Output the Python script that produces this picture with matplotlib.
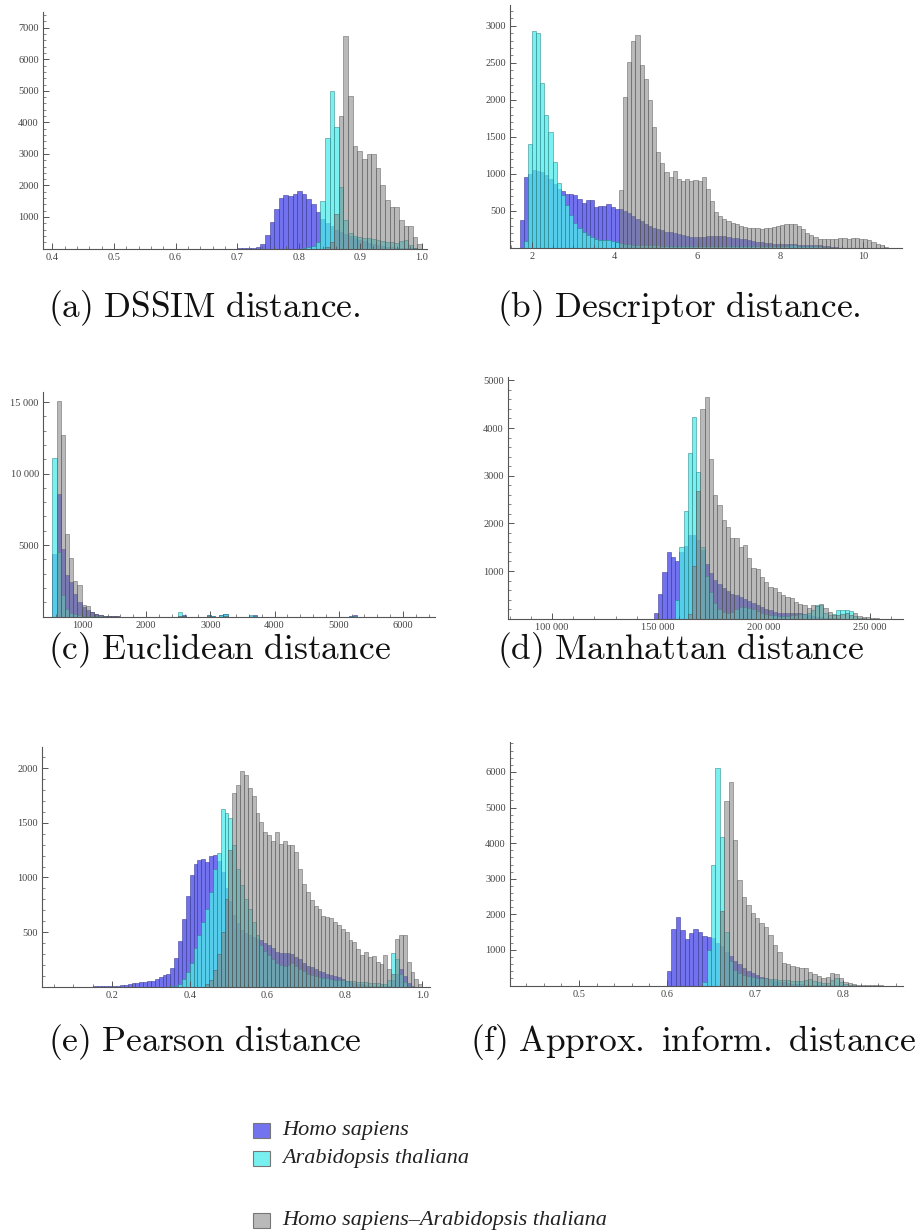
import numpy as np
import matplotlib
matplotlib.use('Agg')
import matplotlib.pyplot as plt
from matplotlib.ticker import AutoMinorLocator
from matplotlib.patches import Rectangle

plt.rcParams['font.family'] = ['Liberation Serif', 'DejaVu Serif']
plt.rcParams['mathtext.fontset'] = 'cm'

##### histogram counts #####
# every panel: first bin edge, bin width, counts per bin

#### (a) DSSIM ####
a_start, a_step = 0.70, 0.0075
a_homo = [5, 10, 15, 25, 60, 150, 420, 850, 1250, 1600,
          1700, 1680, 1720, 1820, 1730, 1580, 1400, 1150, 950, 820,
          700, 600, 520, 450, 390, 330, 280, 230, 190, 150,
          110, 80, 55, 35, 20, 10, 6, 3, 1, 0]
a_arab = [0, 0, 0, 0, 0, 0, 0, 0, 0, 0,
          0, 0, 0, 0, 20, 40, 80, 200, 1500, 3500,
          5000, 3850, 1950, 900, 500, 400, 350, 330, 320, 300,
          280, 250, 220, 200, 170, 250, 270, 100, 20, 0]
a_both = [0, 0, 0, 0, 0, 0, 0, 0, 0, 0,
          0, 0, 0, 0, 0, 0, 0, 0, 0, 50,
          200, 1100, 4200, 6750, 4850, 3250, 3100, 2850, 3000, 3000,
          2550, 2000, 1550, 1330, 1320, 900, 700, 720, 350, 150]

#### (b) Descriptor ####
b_start, b_step = 1.7, 0.1
b_homo = [380, 960, 1000, 1050, 1040, 1020, 980, 930, 860, 790,
          770, 730, 730, 720, 660, 610, 650, 650, 560, 570,
          570, 590, 560, 520, 530, 500, 470, 430, 390, 360,
          330, 300, 270, 250, 240, 220, 210, 200, 190, 175,
          165, 155, 150, 150, 155, 160, 165, 165, 160, 160,
          150, 140, 130, 125, 115, 105, 95, 85, 75, 70,
          65, 60, 58, 55, 52, 50, 48, 45, 42, 40,
          40, 38, 35, 30, 22, 15, 10, 6, 4, 2,
          0, 0, 0, 0, 0, 0, 0, 0, 0, 0]
b_arab = [0, 100, 1400, 2930, 2900, 2230, 1800, 1560, 1160, 880,
          720, 580, 450, 340, 270, 220, 180, 150, 120, 110,
          105, 110, 100, 80, 65, 55, 50, 45, 42, 40,
          38, 36, 35, 34, 33, 32, 31, 30, 30, 29,
          28, 28, 27, 27, 26, 26, 25, 25, 25, 24,
          24, 24, 23, 23, 23, 22, 22, 22, 22, 21,
          21, 21, 21, 25, 30, 35, 35, 30, 28, 26,
          25, 24, 22, 18, 12, 6, 2, 0, 0, 0,
          0, 0, 0, 0, 0, 0, 0, 0, 0, 0]
b_both = [0, 0, 0, 0, 0, 0, 0, 0, 0, 0,
          0, 0, 0, 0, 0, 0, 0, 0, 0, 0,
          0, 0, 0, 0, 780, 2040, 2510, 2800, 2880, 2470,
          2280, 2000, 1640, 1290, 1150, 1030, 960, 1040, 930, 900,
          930, 910, 920, 910, 960, 800, 640, 480, 430, 390,
          360, 340, 320, 300, 285, 272, 265, 265, 262, 265,
          270, 280, 295, 310, 325, 330, 325, 300, 250, 200,
          170, 145, 125, 115, 120, 125, 128, 130, 130, 128,
          130, 130, 128, 120, 105, 85, 60, 35, 12, 0]

#### (c) Euclidean ####
c_start, c_step, c_nbins = 540, 65, 76
c_head_homo = [4400, 8600, 4700, 2900, 2400, 1600, 1000, 650, 420, 300, 190, 100, 60, 35, 20, 10]
c_head_arab = [11100, 4500, 1500, 500, 250, 150, 100, 60, 40, 20, 10, 5, 0, 0, 0, 0]
c_head_both = [0, 15100, 12700, 5800, 4100, 2450, 2200, 820, 750, 300, 190, 80, 40, 20, 10, 5]
# small isolated bumps further right
c_tail_bins = [30, 31, 37, 38, 40, 41, 47, 48, 71, 72]
c_tail_homo = [60, 80, 100, 50, 80, 150, 60, 80, 60, 100]
c_tail_arab = [300, 60, 120, 50, 100, 180, 120, 60, 20, 40]
c_tail_both = [40, 30, 30, 0, 0, 30, 0, 0, 0, 0]

#### (d) Manhattan ####
d_start, d_step = 148000, 2000
d_homo = [110, 510, 970, 1390, 1300, 1200, 1400, 1520, 1750, 1750,
          1650, 1450, 1150, 950, 820, 720, 650, 580, 520, 490,
          450, 410, 370, 330, 290, 250, 210, 180, 150, 130,
          120, 115, 120, 130, 120, 100, 80, 60, 40, 30,
          20, 15, 10, 5, 0, 0, 0, 0, 0, 0,
          0, 0, 0]
d_arab = [0, 0, 0, 0, 0, 400, 1500, 2250, 3480, 4230,
          3070, 1500, 900, 550, 320, 200, 150, 130, 150, 200,
          240, 250, 230, 200, 170, 130, 100, 80, 70, 60,
          60, 60, 70, 80, 90, 100, 120, 180, 290, 280,
          120, 80, 100, 180, 190, 190, 170, 60, 20, 10,
          0, 0, 0]
d_both = [0, 0, 0, 0, 0, 0, 0, 0, 100, 1100,
          2670, 4390, 4650, 3340, 2600, 2390, 2070, 1930, 1690, 1700,
          1510, 1550, 1270, 1060, 1040, 880, 780, 670, 640, 570,
          500, 460, 430, 360, 300, 290, 220, 290, 275, 310,
          220, 150, 80, 80, 90, 110, 80, 130, 60, 40,
          30, 20, 10]

#### (e) Pearson ####
e_start, e_step = 0.10, 0.01
e_homo = [0, 0, 0, 0, 0, 5, 5, 5, 8, 8,
          10, 10, 12, 15, 20, 30, 35, 40, 45, 50,
          55, 70, 90, 105, 120, 170, 260, 420, 620, 830,
          1020, 1120, 1160, 1170, 1140, 1200, 1210, 1150, 1050, 900,
          780, 660, 580, 520, 490, 470, 450, 440, 430, 400,
          380, 350, 320, 310, 310, 305, 300, 270, 250, 220,
          190, 175, 160, 145, 130, 120, 107, 95, 85, 70,
          55, 45, 35, 25, 20, 15, 10, 8, 5, 5,
          5, 10, 60, 120, 160, 100, 30, 5, 0, 0]
e_arab = [0, 0, 0, 0, 0, 0, 0, 0, 0, 0,
          0, 0, 0, 0, 0, 0, 0, 0, 0, 0,
          0, 0, 0, 0, 0, 5, 10, 20, 70, 130,
          220, 350, 470, 590, 710, 870, 1080, 1220, 1630, 1590,
          1540, 1300, 1080, 930, 800, 710, 590, 470, 380, 330,
          285, 250, 220, 200, 190, 200, 220, 190, 160, 140,
          115, 105, 100, 90, 80, 75, 70, 65, 60, 58,
          55, 50, 48, 45, 42, 40, 35, 32, 30, 28,
          25, 60, 310, 250, 120, 40, 10, 0, 0, 0]
e_both = [0, 0, 0, 0, 0, 0, 0, 0, 0, 0,
          0, 0, 0, 0, 0, 0, 0, 0, 0, 0,
          0, 0, 0, 0, 0, 0, 0, 0, 0, 0,
          0, 0, 0, 0, 20, 60, 150, 300, 500, 800,
          1250, 1770, 1850, 1975, 1940, 1820, 1750, 1590, 1510, 1420,
          1390, 1330, 1420, 1310, 1330, 1300, 1300, 1230, 1080, 940,
          870, 790, 740, 710, 650, 640, 630, 590, 560, 530,
          500, 430, 410, 345, 285, 315, 270, 280, 225, 210,
          285, 160, 115, 440, 470, 470, 225, 130, 70, 20]

#### (f) Approx. inform. ####
f_start, f_step = 0.60, 0.005
f_homo = [410, 1580, 1930, 1560, 1310, 1480, 1590, 1500, 1400, 1370,
          1330, 1200, 1100, 950, 820, 700, 600, 500, 420, 350,
          290, 240, 200, 165, 135, 110, 90, 70, 55, 45,
          35, 28, 22, 18, 14, 10, 8, 6, 4, 3,
          2, 1, 1, 0, 0, 0, 0, 0, 0, 0]
f_arab = [0, 0, 0, 0, 0, 0, 0, 0, 100, 1000,
          3380, 6120, 4180, 1500, 700, 450, 350, 300, 260, 230,
          210, 200, 200, 190, 180, 170, 160, 150, 140, 130,
          120, 150, 180, 120, 90, 80, 70, 150, 200, 100,
          40, 20, 10, 0, 0, 0, 0, 0, 0, 0]
f_both = [0, 0, 0, 0, 0, 0, 0, 0, 0, 0,
          0, 0, 2100, 5180, 5720, 4080, 2960, 2500, 2260, 2030,
          1900, 1750, 1650, 1420, 1140, 950, 645, 600, 550, 530,
          490, 490, 390, 320, 280, 205, 250, 345, 320, 225,
          110, 65, 40, 30, 20, 15, 10, 5, 5, 0]

legend_names = ['Homo sapiens', 'Arabidopsis thaliana', 'Homo sapiens\u2013Arabidopsis thaliana']

# the euclidean panel: spread the sparse bumps on to the full bin grid
c_homo = np.zeros(c_nbins)
c_arab = np.zeros(c_nbins)
c_both = np.zeros(c_nbins)
c_homo[:len(c_head_homo)] = c_head_homo
c_arab[:len(c_head_arab)] = c_head_arab
c_both[:len(c_head_both)] = c_head_both
c_homo[c_tail_bins] = c_tail_homo
c_arab[c_tail_bins] = c_tail_arab
c_both[c_tail_bins] = c_tail_both

BLUE = (0.35, 0.35, 0.92, 0.85)
BLUE_EDGE = (0.2, 0.2, 0.55, 0.8)
CYAN = (0.30, 0.92, 0.92, 0.75)
CYAN_EDGE = (0.15, 0.5, 0.5, 0.8)
GREY = (0.5, 0.5, 0.5, 0.55)
GREY_EDGE = (0.3, 0.3, 0.3, 0.7)

W, H = 920.0, 1231.0
fig = plt.figure(figsize=(9.2, 12.31), dpi=100)


def add_ax(left, right, top, bottom):
    # pixel box of the axes in the 920x1231 picture
    return fig.add_axes([left / W, 1 - bottom / H, (right - left) / W, (bottom - top) / H])


def draw_hist(ax, start, step, homo, arab, both):
    for counts, face, edge in ((homo, BLUE, BLUE_EDGE), (arab, CYAN, CYAN_EDGE), (both, GREY, GREY_EDGE)):
        counts = np.asarray(counts, dtype=float)
        left = start + step * np.arange(len(counts))
        keep = counts > 0
        ax.bar(left[keep], counts[keep], width=step, align='edge',
               color=face, edgecolor=edge, linewidth=0.45)


def style(ax, xticks, xlabels, yticks, ylabels, xminor, yminor):
    for s in ('top', 'right'):
        ax.spines[s].set_visible(False)
    for s in ('left', 'bottom'):
        ax.spines[s].set_color('#555555')
        ax.spines[s].set_linewidth(0.8)
    ax.set_xticks(xticks)
    ax.set_xticklabels(xlabels)
    ax.set_yticks(yticks)
    ax.set_yticklabels(ylabels)
    ax.xaxis.set_minor_locator(AutoMinorLocator(xminor))
    ax.yaxis.set_minor_locator(AutoMinorLocator(yminor))
    ax.tick_params(which='both', direction='in', color='#555555', labelcolor='#444444', labelsize=7.5)
    ax.tick_params(which='major', length=4, width=0.7, pad=3)
    ax.tick_params(which='minor', length=2, width=0.5)


def caption(x, y, text):
    fig.text(x / W, 1 - y / H, text, fontsize=25.5, ha='left', va='center', color='#111111')


# (a)
ax = add_ax(43, 427, 12, 248.5)
draw_hist(ax, a_start, a_step, a_homo, a_arab, a_both)
ax.set_xlim(0.385, 1.008)
ax.set_ylim(0, 7500)
style(ax, [0.4, 0.5, 0.6, 0.7, 0.8, 0.9, 1.0], ['0.4', '0.5', '0.6', '0.7', '0.8', '0.9', '1.0'],
      [1000, 2000, 3000, 4000, 5000, 6000, 7000], ['1000', '2000', '3000', '4000', '5000', '6000', '7000'], 5, 5)
caption(48, 308, r'$\mathrm{(a)\ DSSIM\ distance.}$')

# (b)
ax = add_ax(510, 902, 5, 248)
draw_hist(ax, b_start, b_step, b_homo, b_arab, b_both)
ax.set_xlim(1.47, 10.94)
ax.set_ylim(0, 3280)
style(ax, [2, 4, 6, 8, 10], ['2', '4', '6', '8', '10'],
      [500, 1000, 1500, 2000, 2500, 3000], ['500', '1000', '1500', '2000', '2500', '3000'], 4, 5)
caption(497, 308, r'$\mathrm{(b)\ Descriptor\ distance.}$')

# (c)
ax = add_ax(43, 435, 392, 616.5)
draw_hist(ax, c_start, c_step, c_homo, c_arab, c_both)
ax.set_xlim(393, 6500)
ax.set_ylim(0, 15700)
style(ax, [1000, 2000, 3000, 4000, 5000, 6000], ['1000', '2000', '3000', '4000', '5000', '6000'],
      [5000, 10000, 15000], ['5000', '10 000', '15 000'], 5, 5)
caption(48, 650, r'$\mathrm{(c)\ Euclidean\ distance}$')

# (d)
ax = add_ax(508, 903, 377, 618.7)
draw_hist(ax, d_start, d_step, d_homo, d_arab, d_both)
ax.set_xlim(79245, 265500)
ax.set_ylim(0, 5070)
style(ax, [100000, 150000, 200000, 250000], ['100 000', '150 000', '200 000', '250 000'],
      [1000, 2000, 3000, 4000, 5000], ['1000', '2000', '3000', '4000', '5000'], 5, 5)
caption(497, 650, r'$\mathrm{(d)\ Manhattan\ distance}$')

# (e)
ax = add_ax(42, 430, 747, 986.6)
draw_hist(ax, e_start, e_step, e_homo, e_arab, e_both)
ax.set_xlim(0.019, 1.02)
ax.set_ylim(0, 2195)
style(ax, [0.2, 0.4, 0.6, 0.8, 1.0], ['0.2', '0.4', '0.6', '0.8', '1.0'],
      [500, 1000, 1500, 2000], ['500', '1000', '1500', '2000'], 4, 5)
caption(48, 1042, r'$\mathrm{(e)\ Pearson\ distance}$')

# (f)
ax = add_ax(510, 903, 742, 985.6)
draw_hist(ax, f_start, f_step, f_homo, f_arab, f_both)
ax.set_xlim(0.4216, 0.868)
ax.set_ylim(0, 6840)
style(ax, [0.5, 0.6, 0.7, 0.8], ['0.5', '0.6', '0.7', '0.8'],
      [1000, 2000, 3000, 4000, 5000, 6000], ['1000', '2000', '3000', '4000', '5000', '6000'], 5, 5)
caption(470, 1042, r'$\mathrm{(f)\ Approx.\ inform.\ distance}$')

#### legend ####
legend_faces = ['#7373f0', '#79f0f0', '#b9b9b9']
legend_y = [1130, 1158, 1220]
for name, face, yc in zip(legend_names, legend_faces, legend_y):
    fig.add_artist(Rectangle((253 / W, 1 - (yc + 7.5) / H), 17 / W, 15 / H, transform=fig.transFigure,
                             facecolor=face, edgecolor='#777777', linewidth=0.8))
    fig.text(282 / W, 1 - yc / H, name, fontsize=16, style='italic', ha='left', va='center', color='#222222')

fig.savefig('out.png', dpi=100)
